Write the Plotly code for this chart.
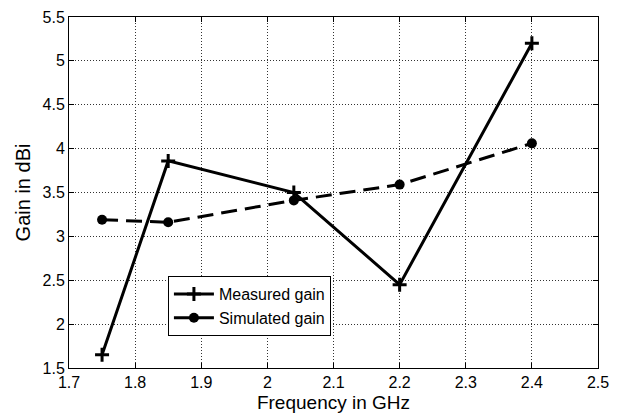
import plotly.graph_objects as go

freq_measured = [1.75, 1.85, 2.04, 2.2, 2.4]
gain_measured = [1.65, 3.86, 3.5, 2.45, 5.2]
freq_simulated = [1.75, 1.85, 2.04, 2.2, 2.4]
gain_simulated = [3.19, 3.16, 3.41, 3.59, 4.06]
x_ticks = [1.7, 1.8, 1.9, 2.0, 2.1, 2.2, 2.3, 2.4, 2.5]
x_tick_labels = ["1.7", "1.8", "1.9", "2", "2.1", "2.2", "2.3", "2.4", "2.5"]
y_ticks = [1.5, 2, 2.5, 3, 3.5, 4, 4.5, 5, 5.5]
y_tick_labels = ["1.5", "2", "2.5", "3", "3.5", "4", "4.5", "5", "5.5"]

FONT = "Liberation Sans, Arial, sans-serif"

fig = go.Figure()
fig.add_trace(go.Scatter(
    x=freq_measured, y=gain_measured, mode="lines+markers", name="Measured gain",
    legendgroup="m",
    line=dict(color="black", width=3),
    marker=dict(symbol="cross-thin", size=10, color="black",
                line=dict(color="black", width=3)),
))
fig.add_trace(go.Scatter(
    x=freq_simulated, y=gain_simulated, mode="lines+markers", name="Simulated gain",
    legendgroup="s",
    line=dict(color="black", width=3, dash="16px,8px"),
    marker=dict(symbol="circle", size=10, color="black"),
))

axis_common = dict(
    showline=True, linecolor="black", linewidth=1, mirror="allticks",
    ticks="inside", ticklen=5, tickcolor="black",
    showgrid=True, gridcolor="#333", griddash="1px,2px", gridwidth=1,
    zeroline=False, tickfont=dict(family=FONT, size=16, color="black"),
)

fig.update_layout(
    width=622, height=420,
    margin=dict(l=69, r=24, t=9, b=52),
    paper_bgcolor="white", plot_bgcolor="white",
    font=dict(family=FONT, color="black"),
    xaxis=dict(range=[1.7, 2.5], tickvals=x_ticks, ticktext=x_tick_labels,
               title=dict(text="Frequency in GHz", font=dict(size=19), standoff=5),
               **axis_common),
    yaxis=dict(range=[1.5, 5.5], tickvals=y_ticks, ticktext=y_tick_labels,
               title=dict(text="Gain in dBi", font=dict(size=20), standoff=6),
               **axis_common),
    legend=dict(x=0.187, y=0.262, xanchor="left", yanchor="top",
                bgcolor="white", bordercolor="black", borderwidth=1,
                font=dict(family=FONT, size=16, color="black"),
                tracegroupgap=0, itemwidth=40),
    showlegend=True,
)

fig.write_html("out.html")
